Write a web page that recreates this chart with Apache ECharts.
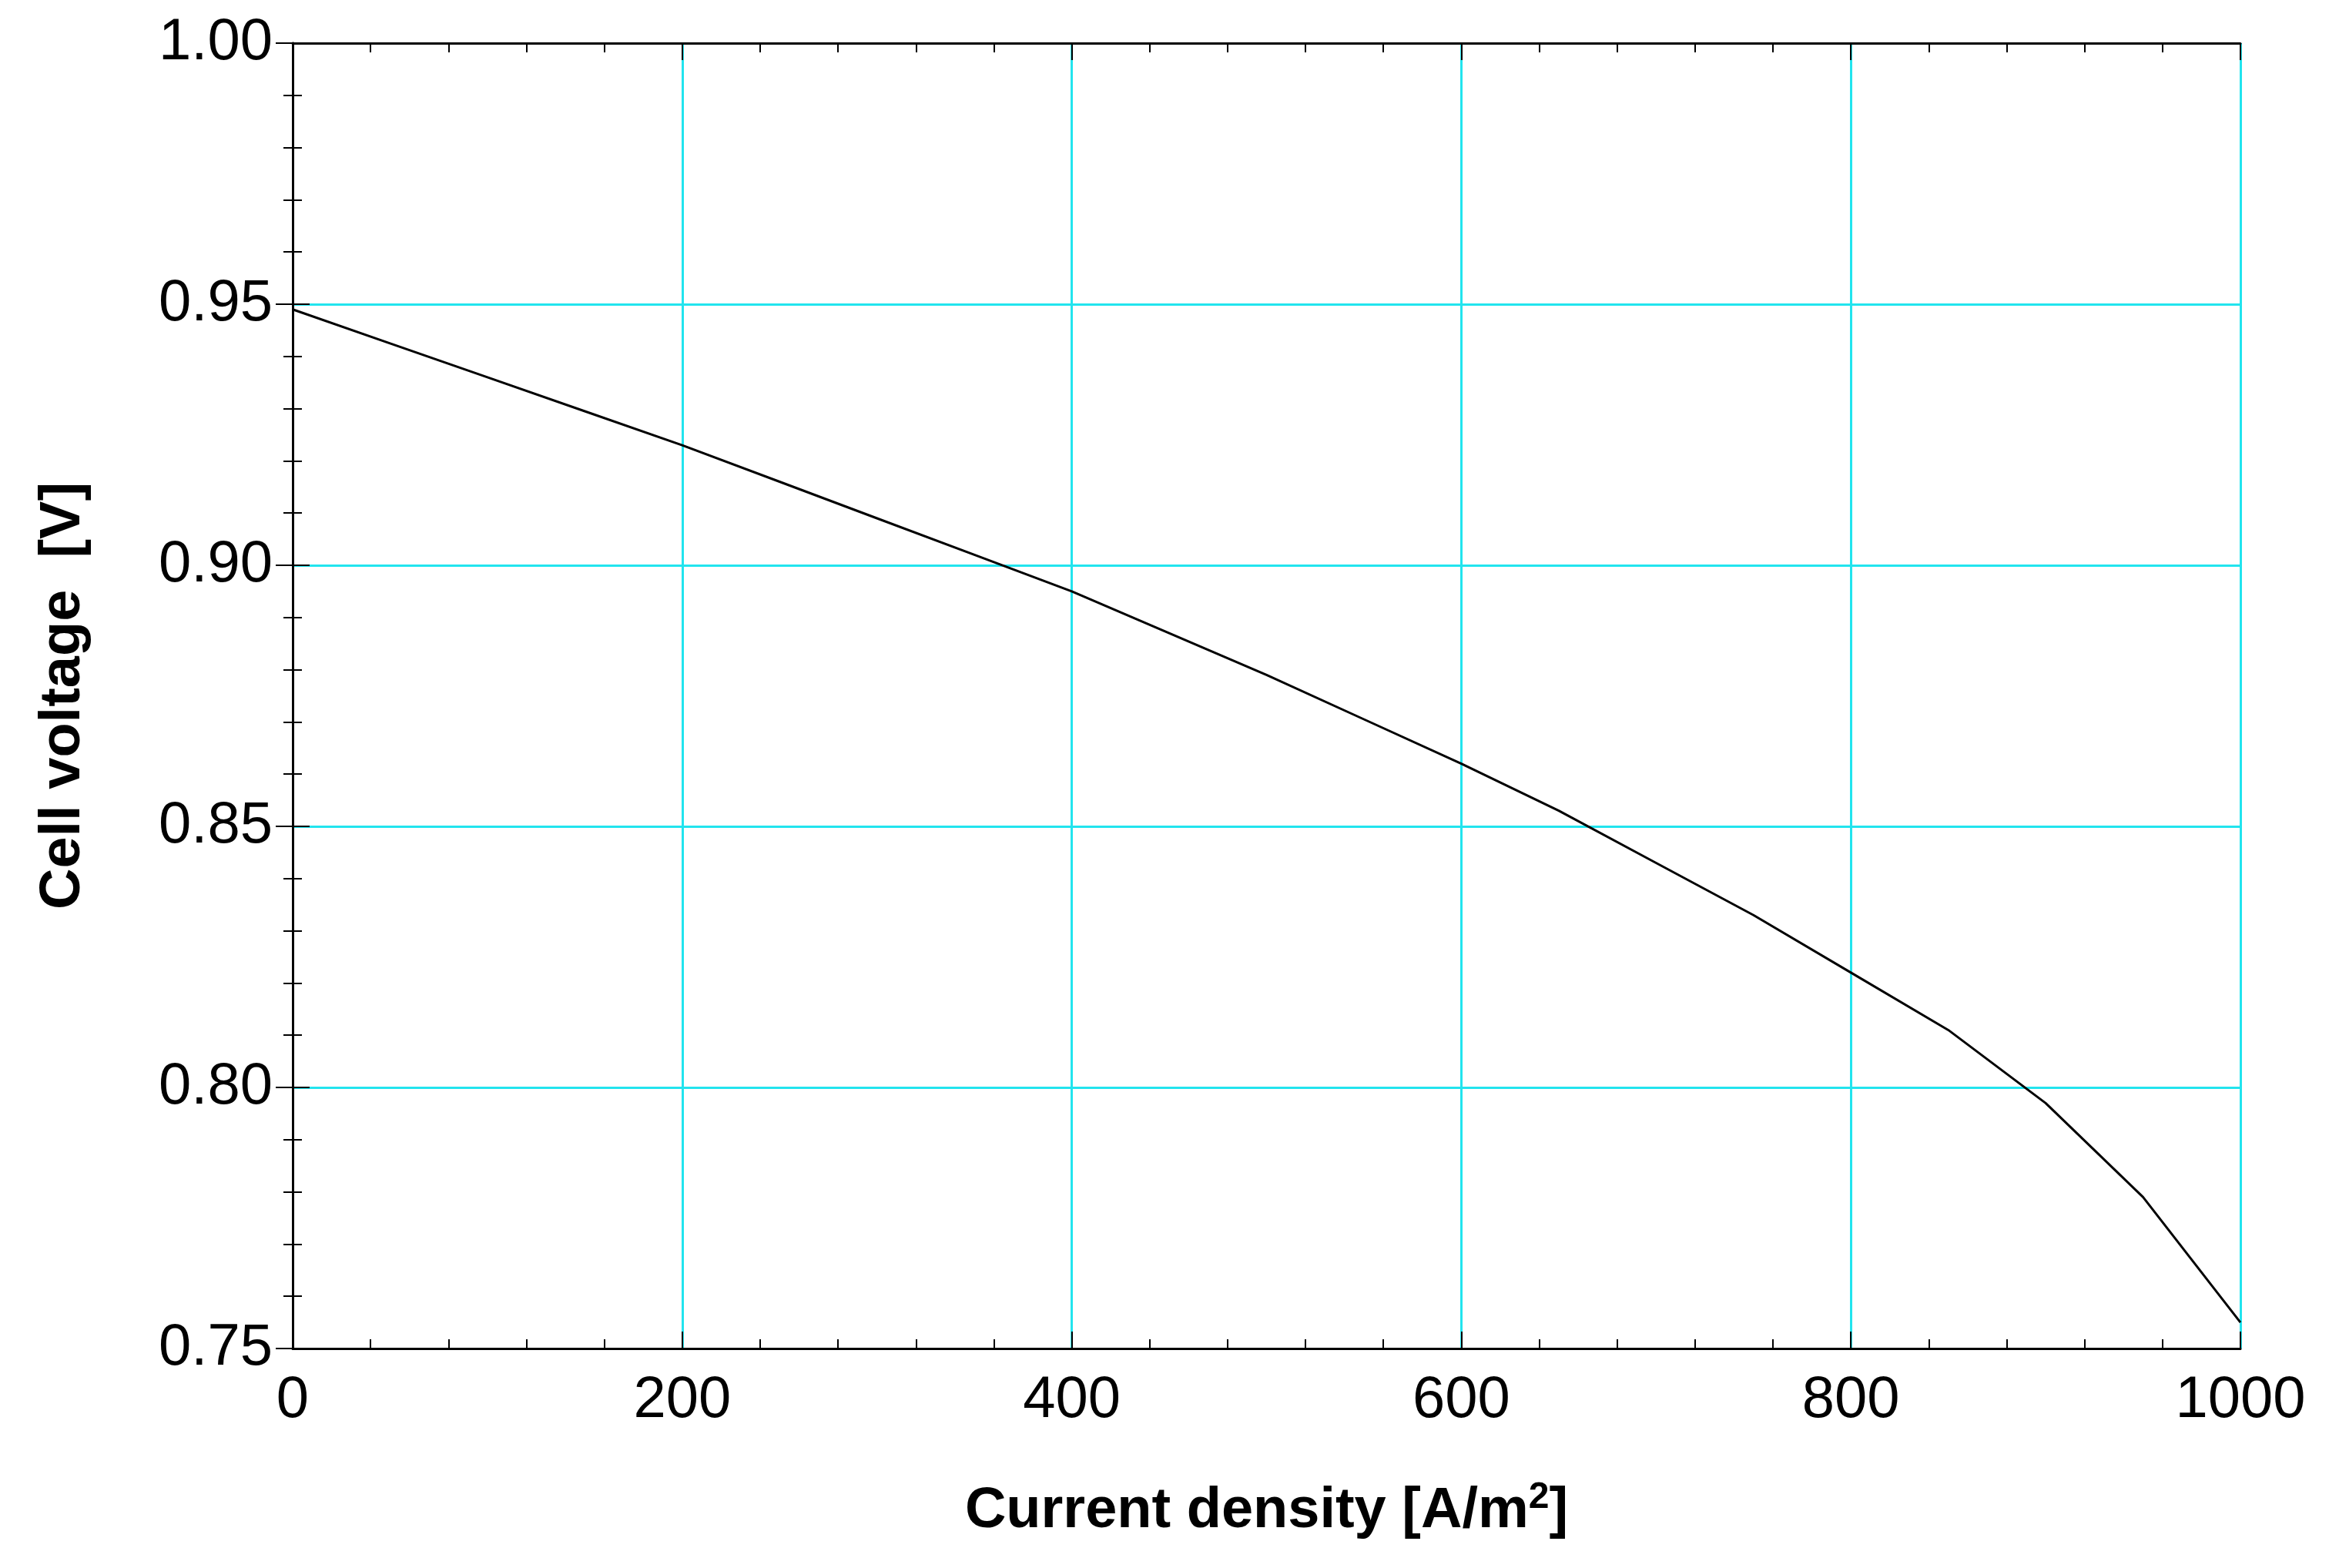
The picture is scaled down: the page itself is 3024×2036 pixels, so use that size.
<!DOCTYPE html>
<html><head><meta charset="utf-8">
<script src="https://cdn.jsdelivr.net/npm/echarts@6/dist/echarts.min.js"></script>
<style>html,body{margin:0;background:#fff}#c{width:3024px;height:2036px}</style>
</head><body><div id="c"></div>
<script>
const currentDensity = [0,50,100,150,200,250,300,350,400,450,500,550,600,650,700,750,800,850,900,950,1000];
const cellVoltage = [0.949,0.9425,0.936,0.9295,0.923,0.916,0.909,0.902,0.895,0.887,0.879,0.8705,0.862,0.853,0.843,0.833,0.822,0.811,0.797,0.779,0.755];

const chart = echarts.init(document.getElementById('c'));
const font = 'Liberation Sans, Arial, sans-serif';
const tick = {show:true, inside:true, length:22, lineStyle:{color:'#000', width:2}};
const minor = {show:true, splitNumber:5, length:12, lineStyle:{color:'#000', width:2}};
const line = {show:true, lineStyle:{color:'#000', width:3}};
const cyan = {show:true, lineStyle:{color:'#22e4ee', width:3}};
chart.setOption({
  animation:false,
  grid:{left:380, right:115, top:56, bottom:285},
  xAxis:[
    {type:'value', min:0, max:1000, interval:200, axisLine:line, axisTick:tick,
     minorTick:minor, splitLine:cyan,
     axisLabel:{fontFamily:font, fontSize:76, color:'#000', margin:30, formatter:v=>String(v)},
     name:'{t|Current density [A/m}{s|2}{t|]}', nameLocation:'middle', nameGap:170,
     nameTextStyle:{rich:{t:{fontFamily:font, fontSize:74, fontWeight:'bold', color:'#000'},
                          s:{fontFamily:font, fontSize:48, fontWeight:'bold', color:'#000', verticalAlign:'top', padding:[0,0,36,0]}}}},
    {type:'value', position:'top', min:0, max:1000, interval:200, axisLine:line, axisTick:tick,
     minorTick:minor, splitLine:{show:false}, axisLabel:{show:false}}
  ],
  yAxis:[
    {type:'value', min:0.75, max:1.0, interval:0.05, axisLine:line, axisTick:tick,
     minorTick:minor, splitLine:cyan,
     axisLabel:{fontFamily:font, fontSize:76, color:'#000', margin:26, formatter:v=>v.toFixed(2)},
     name:'Cell voltage  [V]', nameLocation:'middle', nameGap:260,
     nameTextStyle:{fontFamily:font, fontSize:74, fontWeight:'bold', color:'#000'}},
    {type:'value', position:'right', min:0.75, max:1.0, interval:0.05, axisLine:line, axisTick:tick,
     minorTick:minor, splitLine:{show:false}, axisLabel:{show:false}}
  ],
  series:[{type:'line', data:currentDensity.map((x,i)=>[x,cellVoltage[i]]), showSymbol:false,
    lineStyle:{color:'#000', width:3}}]
});
</script></body></html>
